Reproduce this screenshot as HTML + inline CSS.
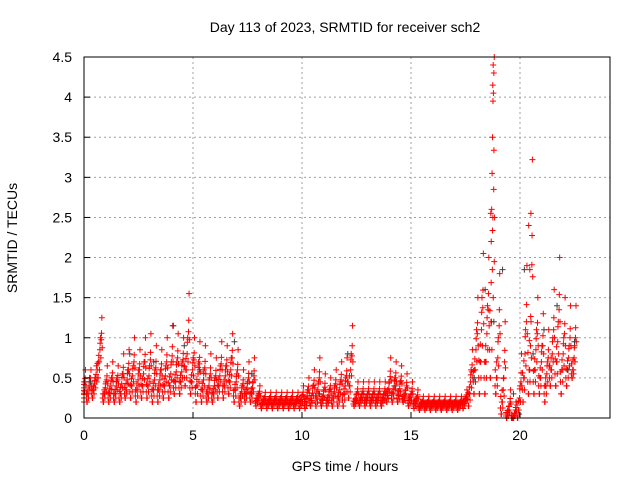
<!DOCTYPE html>
<html><head><meta charset="utf-8"><style>
body{margin:0;background:#fff}
svg text{font-family:"Liberation Sans",sans-serif;font-size:14px;fill:#000}
</style></head><body>
<svg id="chart" width="640" height="480" xmlns="http://www.w3.org/2000/svg">
<text x="345" y="32" text-anchor="middle">Day 113 of 2023, SRMTID for receiver sch2</text>
<text x="345" y="471" text-anchor="middle">GPS time / hours</text>
<text transform="translate(17,238) rotate(-90)" text-anchor="middle">SRMTID / TECUs</text>
<g id="grid"></g><g id="pts"></g><g id="axes"></g>
</svg>
<script>
const xTicks=[0,5,10,15,20];
const yTicks=[0,0.5,1,1.5,2,2.5,3,3.5,4,4.5];
const binStart=-0.15, binWidth=0.25;
// per 0.25h bin: low, q1, q3, high
const lows=[.2,.2,.25,.5,.2,.2,.2,.2,.25,.25,.2,.25,.25,.2,.2,.25,.25,.3,.3,.4,.3,.2,.2,.2,.2,.25,.25,.3,.2,.15,.2,.2,.15,.12,.12,.12,.12,.12,.12,.12,.12,.12,.15,.15,.15,.15,.15,.15,.15,.25,.15,.15,.15,.15,.15,.15,.2,.2,.2,.2,.15,.12,.1,.1,.1,.1,.1,.1,.1,.1,.12,.15,.3,.3,.3,.5,.3,.05,0,0,0,.2,.3,.3,.3,.2,.4,.4,.3,.4,.5];
const q1s=[.3,.3,.35,.7,.3,.3,.3,.3,.35,.4,.35,.4,.4,.35,.35,.4,.4,.45,.45,.6,.45,.4,.35,.3,.3,.4,.4,.45,.35,.25,.3,.3,.22,.18,.18,.18,.18,.18,.18,.18,.18,.2,.22,.25,.22,.22,.25,.25,.3,.4,.2,.22,.22,.22,.22,.22,.28,.3,.28,.25,.22,.18,.15,.15,.15,.15,.15,.15,.15,.15,.18,.3,.6,.7,.7,1.2,.5,.2,.05,0,.1,.5,.6,.6,.5,.4,.6,.7,.6,.6,.6];
const q3s=[.45,.5,.5,1.0,.45,.5,.5,.55,.6,.65,.6,.7,.65,.6,.6,.65,.7,.7,.7,1.0,.75,.7,.6,.5,.5,.65,.65,.75,.55,.4,.45,.45,.3,.25,.25,.25,.25,.25,.25,.25,.28,.35,.4,.45,.35,.35,.4,.45,.5,.8,.3,.3,.3,.3,.3,.3,.45,.5,.45,.35,.3,.25,.2,.2,.2,.2,.2,.2,.2,.2,.25,.6,1.1,1.5,1.4,2.5,1.0,.5,.15,.05,.4,1.1,1.2,1.1,.9,.7,1.0,1.2,1.0,.9,.9];
const highs=[.6,.6,.65,1.25,.65,.7,.65,.8,.85,1.0,.85,1.0,1.05,.9,.85,1.0,1.15,1.05,1.0,1.55,1.0,.95,.9,.8,.75,.95,.9,1.05,.85,.6,.7,.75,.4,.32,.32,.32,.32,.32,.32,.32,.4,.5,.6,.75,.55,.5,.6,.7,.75,1.15,.45,.45,.45,.45,.45,.45,.75,.7,.65,.55,.45,.35,.27,.27,.27,.27,.27,.27,.27,.27,.35,.85,1.5,2.05,2.0,4.5,1.8,1.2,.35,.2,.8,1.9,3.22,1.5,1.3,1.1,1.6,2.0,1.5,1.4,1.4];
const extraTimes=[18.7,18.72,18.74,18.76,18.78,18.8,18.68,18.66,18.82,18.75,18.77,20.4,20.45,20.5];
const extraValues=[2.6,3.05,3.5,3.95,4.05,4.3,2.2,2.55,1.95,4.15,4.4,2.4,1.85,2.55];
const darkTimes=[0.3,2.1,3.2,4.1,4.6,5.3,6.9,7.7,10.8,12.1,14.3,17.9,18.4,18.8,19.2,19.7,20.2,20.6,21.1,21.7,22.2,22.5];
const darkValues=[0.45,0.8,0.7,1.15,0.9,0.6,0.95,0.55,0.3,0.8,0.4,0.5,1.6,1.2,1.85,0.3,1.85,0.8,1.1,1.4,0.6,0.95];
const X0=84,X1=610,Y0=418,Y1=57;
const xs=t=>X0+t*(520-84)/20;
const ys=v=>Y0-v*(Y0-Y1)/4.5;
const NS="http://www.w3.org/2000/svg";
function mk(tag,parent,attrs){const e=document.createElementNS(NS,tag);for(const k in attrs)e.setAttribute(k,attrs[k]);parent.appendChild(e);return e;}
const grid=document.getElementById('grid'),axes=document.getElementById('axes'),pts=document.getElementById('pts');
xTicks.forEach(t=>{const x=xs(t);
 if(t>0){const g=mk('line',grid,{x1:x,x2:x,y1:Y1,y2:Y0,stroke:'#a0a0a0','stroke-dasharray':'2,3'});
 
 }
 const tk=mk('line',axes,{x1:x,x2:x,y1:Y0,y2:Y0-6,stroke:'#000'});
 
 
 const l=mk('text',axes,{x:x,y:Y0+22,'text-anchor':'middle'});l.textContent=t;
 
 });
yTicks.forEach(v=>{const y=ys(v);
 if(v>0&&v<4.5){const g=mk('line',grid,{x1:X0,x2:X1,y1:y,y2:y,stroke:'#a0a0a0','stroke-dasharray':'2,3'});
 
 }
 const tk=mk('line',axes,{x1:X0,x2:X0+6,y1:y,y2:y,stroke:'#000'});
 
 
 const l=mk('text',axes,{x:X0-12,y:y+5,'text-anchor':'end'});l.textContent=v;
 
 });
const box=mk('rect',axes,{x:X0,y:Y1,width:X1-X0,height:Y0-Y1,fill:'none',stroke:'#000'});


function plus(t,v,col,name){if(t<0)t=0;const x=xs(t),y=ys(v);
 const p=mk('path',pts,{d:`M${x-3},${y}h6M${x},${y-3}v6`,stroke:col,'stroke-width':1});
 
 }
const series=[lows,q1s,q3s,highs];
lows.forEach((_,i)=>{const t0=binStart+i*binWidth;
 const mid=(lows[i]+q1s[i]+q3s[i]+highs[i])/4;
 series.forEach((arr,j)=>{
  const v=arr[i];
  plus(t0+binWidth*(j+0.5)/4,v,'#ff0000','srmtid-point');
  plus(t0+binWidth*(j+0.25)/4,(v+mid)/2,'#ff0000','srmtid-point');
  plus(t0+binWidth*(j+0.75)/4,(v+lows[i])/2,'#ff0000','srmtid-point');
  plus(t0+binWidth*(j+0.1)/4,(v+q1s[i])/2,'#ff0000','srmtid-point');
 });});
extraTimes.forEach((t,i)=>plus(t,extraValues[i],'#ff0000','srmtid-point'));
darkTimes.forEach((t,i)=>plus(t,darkValues[i],'#404040','srmtid-point-dark'));
</script>
</body></html>
